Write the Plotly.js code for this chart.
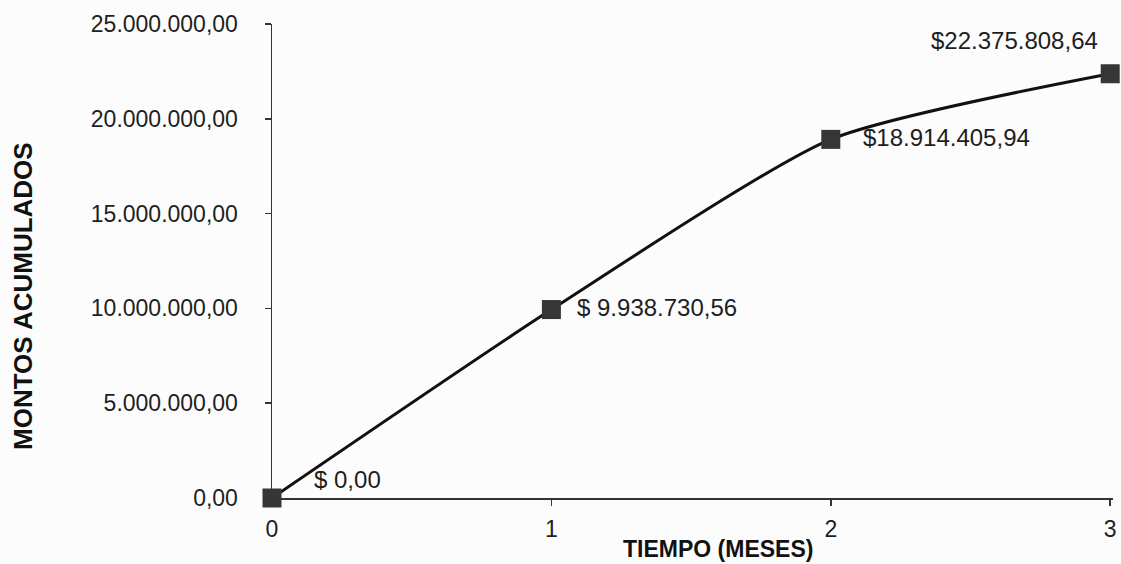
<!DOCTYPE html>
<html>
<head>
<meta charset="utf-8">
<script src="https://cdn.plot.ly/plotly-3.0.1.min.js"></script>
<style>
  html, body { margin: 0; padding: 0; background: #fcfcfc; }
  #chart { width: 1121px; height: 564px; }
</style>
</head>
<body>
<div id="chart"></div>
<script>
// ---- data ----
const months = [0, 1, 2, 3];
const amounts = [0, 9938730.56, 18914405.94, 22375808.64];
const pointLabels = ["$ 0,00", "$ 9.938.730,56", "$18.914.405,94", "$22.375.808,64"];
const yTickVals = [0, 5000000, 10000000, 15000000, 20000000, 25000000];
const yTickText = ["0,00", "5.000.000,00", "10.000.000,00", "15.000.000,00", "20.000.000,00", "25.000.000,00"];
const xTickVals = [0, 1, 2, 3];
const xTickText = ["0", "1", "2", "3"];
const xTitle = "TIEMPO (MESES)";
const yTitle = "MONTOS ACUMULADOS";

// ---- style (label placement) ----
const labelStyle = [
  {xanchor: "left", xshift: 40, yshift: 19},
  {xanchor: "left", xshift: 24, yshift: 2},
  {xanchor: "left", xshift: 30, yshift: 2},
  {xanchor: "right", xshift: -10, yshift: 33}
];

const FONT = "Liberation Sans, Arial, sans-serif";
const txtColor = "#1e1e1e";

const trace = {
  x: months,
  y: amounts,
  type: "scatter",
  mode: "lines+markers",
  line: {color: "#111111", width: 3, shape: "spline", smoothing: 0.6},
  marker: {symbol: "square", size: 19, color: "#363636"},
  cliponaxis: false,
  hoverinfo: "skip"
};

const annotations = months.map((m, i) => ({
  x: m, y: amounts[i], xref: "x", yref: "y",
  text: pointLabels[i], showarrow: false,
  xanchor: labelStyle[i].xanchor, yanchor: "middle",
  xshift: labelStyle[i].xshift, yshift: labelStyle[i].yshift,
  font: {family: FONT, size: 24, color: txtColor}
}));

const W = 1121, H = 564;
const margin = {l: 272, r: 8, t: 24, b: 66};
const pw = W - margin.l - margin.r, ph = H - margin.t - margin.b;

annotations.push({
  xref: "paper", yref: "paper",
  x: (718 - margin.l) / pw, y: -(549 - (H - margin.b)) / ph,
  xanchor: "center", yanchor: "middle",
  text: "<b>" + xTitle + "</b>", showarrow: false,
  font: {family: FONT, size: 23, color: "#111"}
});
annotations.push({
  xref: "paper", yref: "paper",
  x: (23 - margin.l) / pw, y: ((H - margin.b) - 296) / ph,
  xanchor: "center", yanchor: "middle", textangle: -90,
  text: "<b>" + yTitle + "</b>", showarrow: false,
  font: {family: FONT, size: 26, color: "#111"}
});

const layout = {
  width: W, height: H,
  margin: margin,
  paper_bgcolor: "#fcfcfc",
  plot_bgcolor: "#fcfcfc",
  showlegend: false,
  font: {family: FONT, color: txtColor},
  xaxis: {
    range: [0, 3.01],
    tickvals: xTickVals, ticktext: xTickText,
    ticks: "outside", ticklen: 6, tickwidth: 1.5, tickcolor: "#333",
    showline: true, linecolor: "#333", linewidth: 1.5,
    showgrid: false, zeroline: false,
    tickfont: {family: FONT, size: 23, color: txtColor},
    ticklabelstandoff: 4
  },
  yaxis: {
    range: [0, 25000000],
    tickvals: yTickVals, ticktext: yTickText,
    ticks: "outside", ticklen: 6, tickwidth: 1.5, tickcolor: "#333",
    showline: true, linecolor: "#333", linewidth: 1.5,
    showgrid: false, zeroline: false,
    tickfont: {family: FONT, size: 23, color: txtColor},
    ticklabelstandoff: 22
  },
  annotations: annotations
};

Plotly.newPlot("chart", [trace], layout, {staticPlot: true, displayModeBar: false});
</script>
</body>
</html>
